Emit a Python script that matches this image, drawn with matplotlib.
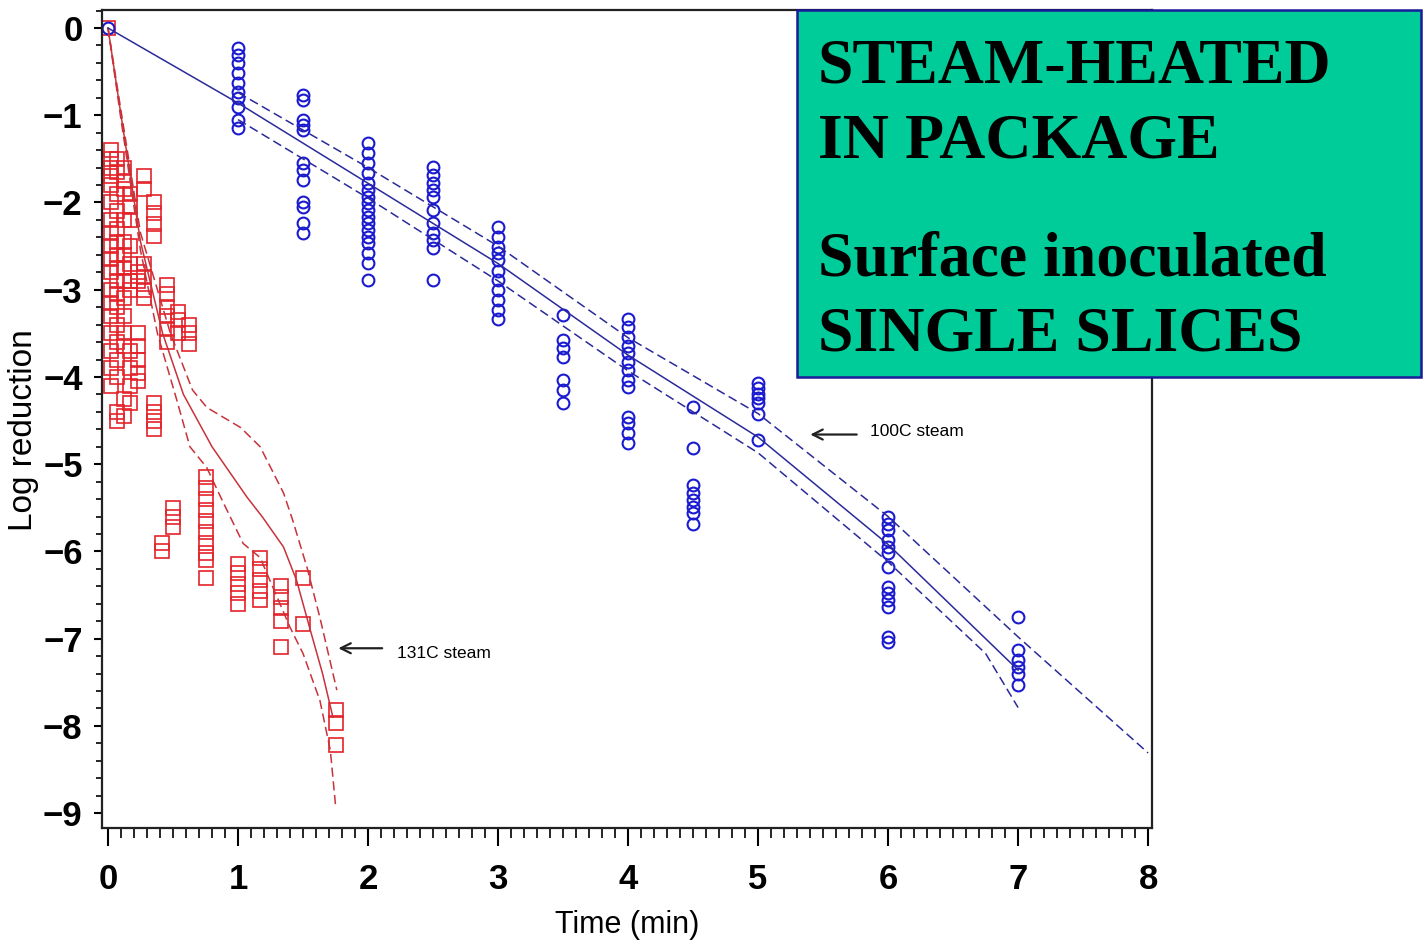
import matplotlib
matplotlib.use('Agg')
import matplotlib.pyplot as plt
from matplotlib.patches import Rectangle
from matplotlib.ticker import MultipleLocator

# 131C steam - surface inoculated slices (time in min, log reduction)
red_times = [0, 0.02, 0.07, 0.12, 0.17, 0.23, 0.28, 0.35, 0.45, 0.54, 0.62,
             0.415, 0.5, 0.75, 1.0, 1.17, 1.33, 1.5, 1.75]
red_values = [
    [0],
    [-1.4, -1.5, -1.6, -1.7, -1.8, -2.0, -2.2, -2.35, -2.5, -2.65, -2.8, -3.0, -3.15, -3.3, -3.5, -3.7, -3.9, -4.1],
    [-1.5, -1.65, -1.9, -2.1, -2.3, -2.45, -2.6, -2.75, -2.9, -3.05, -3.2, -3.4, -3.6, -3.8, -4.0, -4.4, -4.5],
    [-1.6, -1.75, -1.85, -2.2, -2.45, -2.6, -2.75, -2.9, -3.1, -3.3, -3.5, -3.65, -4.25, -4.45],
    [-1.9, -2.05, -2.2, -2.5, -2.7, -2.9, -3.0, -3.7, -3.9, -4.1, -4.3],
    [-2.8, -2.9, -3.5, -3.65, -3.8, -3.95, -4.05],
    [-1.7, -1.85, -2.7, -2.85, -3.0, -3.1],
    [-2.0, -2.12, -2.25, -2.38, -4.3, -4.4, -4.5, -4.6],
    [-2.95, -3.05, -3.2, -3.3, -3.45, -3.6],
    [-3.25, -3.35, -3.5],
    [-3.4, -3.5, -3.62],
    [-5.9, -6.0],
    [-5.5, -5.6, -5.72],
    [-5.15, -5.27, -5.4, -5.52, -5.65, -5.78, -5.9, -6.02, -6.1, -6.31],
    [-6.14, -6.25, -6.37, -6.48, -6.6],
    [-6.07, -6.2, -6.33, -6.45, -6.56],
    [-6.4, -6.52, -6.65, -6.8, -7.1],
    [-6.31, -6.83],
    [-7.82, -7.97, -8.22],
]

# 100C steam
blue_times = [0, 1, 1.5, 2, 2.5, 3, 3.5, 4, 4.5, 5, 6, 7]
blue_values = [
    [0],
    [-0.23, -0.31, -0.4, -0.52, -0.63, -0.73, -0.8, -0.91, -1.06, -1.15],
    [-0.77, -0.83, -1.06, -1.11, -1.17, -1.55, -1.63, -1.74, -2.0, -2.05, -2.24, -2.35],
    [-1.32, -1.43, -1.55, -1.66, -1.78, -1.86, -1.94, -2.01, -2.09, -2.17, -2.24, -2.32, -2.4, -2.47, -2.58, -2.69, -2.89],
    [-1.59, -1.69, -1.78, -1.86, -1.94, -2.09, -2.24, -2.35, -2.43, -2.52, -2.89],
    [-2.28, -2.4, -2.51, -2.58, -2.66, -2.78, -2.89, -3.0, -3.12, -3.23, -3.33],
    [-3.29, -3.58, -3.67, -3.77, -4.04, -4.15, -4.3],
    [-3.33, -3.43, -3.54, -3.64, -3.73, -3.83, -3.92, -4.04, -4.12, -4.46, -4.53, -4.64, -4.76],
    [-4.35, -4.81, -5.24, -5.33, -5.41, -5.49, -5.56, -5.68],
    [-4.07, -4.13, -4.19, -4.24, -4.3, -4.42, -4.72],
    [-5.61, -5.68, -5.76, -5.87, -5.95, -6.02, -6.18, -6.41, -6.48, -6.56, -6.64, -6.98, -7.04],
    [-6.75, -7.13, -7.25, -7.33, -7.4, -7.53],
]

# fitted curves and confidence bands
red_fit_t = [0, 0.1, 0.25, 0.42, 0.58, 0.8, 1.07, 1.19, 1.35, 1.45, 1.55, 1.65, 1.73]
red_fit = [0, -1.0, -2.45, -3.5, -4.2, -4.8, -5.38, -5.61, -5.95, -6.33, -6.87, -7.4, -7.9]
red_up_t = [0, 0.1, 0.25, 0.48, 0.65, 0.76, 1.02, 1.17, 1.35, 1.42, 1.53, 1.63, 1.76]
red_up = [0, -0.95, -2.35, -3.5, -4.15, -4.35, -4.58, -4.8, -5.33, -5.64, -6.18, -6.76, -7.59]
red_lo_t = [0, 0.1, 0.25, 0.38, 0.53, 0.63, 0.76, 0.88, 1.04, 1.17, 1.4, 1.5, 1.63, 1.71, 1.75]
red_lo = [0, -1.05, -2.55, -3.5, -4.27, -4.8, -5.04, -5.42, -5.91, -6.07, -6.87, -7.17, -7.71, -8.28, -8.91]

blue_fit_t = [0, 1, 2, 3, 4, 5, 6, 7]
blue_fit = [0, -0.86, -1.78, -2.7, -3.75, -4.69, -5.92, -7.36]
blue_up_t = [1, 2, 3, 4, 5, 6, 7, 8]
blue_up = [-0.74, -1.6, -2.5, -3.55, -4.42, -5.6, -6.98, -8.31]
blue_lo_t = [1, 2, 3, 4, 5, 6, 6.75, 7]
blue_lo = [-1.05, -1.95, -2.9, -3.93, -4.87, -6.12, -7.17, -7.79]

x_ticks = [0, 1, 2, 3, 4, 5, 6, 7, 8]
y_ticks = [0, -1, -2, -3, -4, -5, -6, -7, -8, -9]

box_lines = ['STEAM-HEATED', 'IN PACKAGE', 'Surface inoculated', 'SINGLE SLICES']

sans = ['Liberation Sans', 'DejaVu Sans']

fig = plt.figure(figsize=(14.27, 9.47), dpi=100)
ax = fig.add_axes([0.0715, 0.1257, 0.7358, 0.8637])

red_c = '#e4222a'
blue_c = '#1a1ad0'

# scatter points
for t, vals in zip(red_times, red_values):
    ax.plot([t] * len(vals), vals, 's', mfc='none', mec=red_c, ms=9.5, mew=1.2)
for t, vals in zip(blue_times, blue_values):
    ax.plot([t] * len(vals), vals, 'o', mfc='none', mec=blue_c, ms=8.5, mew=1.5)

# curves
ax.plot(red_fit_t, red_fit, '-', color='#c8323a', lw=1.1)
ax.plot(red_up_t, red_up, '--', color='#c8323a', lw=1.1, dashes=(6, 3))
ax.plot(red_lo_t, red_lo, '--', color='#c8323a', lw=1.1, dashes=(6, 3))
ax.plot(blue_fit_t, blue_fit, '-', color='#2a2a9a', lw=1.1)
ax.plot(blue_up_t, blue_up, '--', color='#2a2a9a', lw=1.1, dashes=(6, 3))
ax.plot(blue_lo_t, blue_lo, '--', color='#2a2a9a', lw=1.1, dashes=(6, 3))

# annotations
ax.annotate('', xy=(1.75, -7.11), xytext=(2.13, -7.11),
            arrowprops=dict(arrowstyle='->', lw=1.6, color='#222222', mutation_scale=18))
ax.text(2.22, -7.17, '131C steam', family=sans, fontsize=12.5, va='center', ha='left')
ax.annotate('', xy=(5.38, -4.66), xytext=(5.78, -4.66),
            arrowprops=dict(arrowstyle='->', lw=1.6, color='#222222', mutation_scale=18))
ax.text(5.86, -4.63, '100C steam', family=sans, fontsize=12.5, va='center', ha='left')

ax.set_xlim(-0.046, 8.03)
ax.set_ylim(-9.17, 0.206)
ax.set_xticks(x_ticks)
ax.set_yticks(y_ticks)
ax.xaxis.set_minor_locator(MultipleLocator(0.1))
ax.yaxis.set_minor_locator(MultipleLocator(0.2))
ax.tick_params(axis='x', which='major', length=13, width=1.5, pad=12)
ax.tick_params(axis='x', which='minor', length=7, width=1.2)
ax.tick_params(axis='y', which='major', length=6, width=1.5, pad=8)
ax.tick_params(axis='y', which='minor', length=4, width=1.2)
for lab in ax.get_xticklabels() + ax.get_yticklabels():
    lab.set_family(sans)
    lab.set_fontsize(25)
    lab.set_fontweight('bold')
for s in ax.spines.values():
    s.set_linewidth(1.6)
    s.set_color('#222222')

ax.set_xlabel('Time (min)', family=sans, fontsize=22)
ax.xaxis.set_label_coords(0.5, -0.1)
ax.set_ylabel('Log reduction', family=sans, fontsize=24)
ax.yaxis.set_label_coords(-0.06, 0.487)

# title box on top of the plot
fig.add_artist(Rectangle((0.5585, 0.6019), 0.4373, 0.3875, transform=fig.transFigure,
                         facecolor='#00cc99', edgecolor='#1a1a9a', lw=1.8, zorder=5))
for txt, yb in zip(box_lines, [0.9134, 0.8332, 0.7096, 0.6304]):
    fig.text(0.5732, yb, txt, family='Liberation Serif', fontweight='bold',
             fontsize=46, va='baseline', ha='left', zorder=6)

plt.savefig('out.png', dpi=100)
